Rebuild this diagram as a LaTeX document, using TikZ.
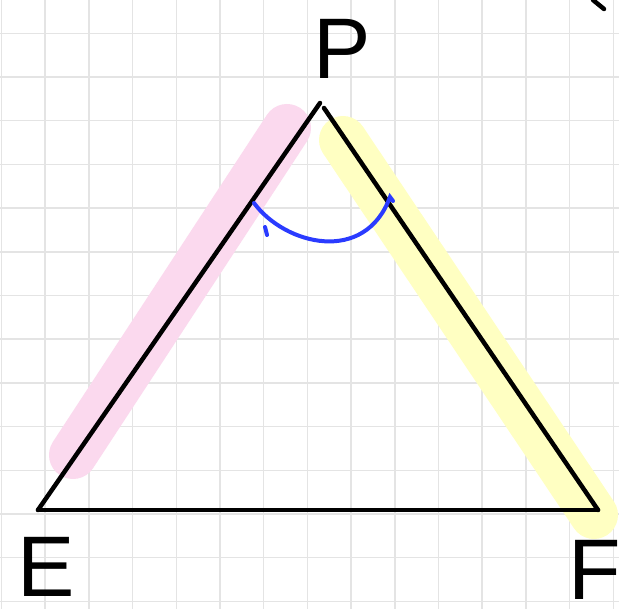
\documentclass[tikz,border=0pt]{standalone}
\usepackage{fontspec}
\setmainfont{Liberation Sans}
\usetikzlibrary{positioning}
\definecolor{gridcolor}{HTML}{E4E4E4}
\definecolor{pinkmark}{HTML}{FBD9EE}
\definecolor{yellowmark}{HTML}{FFFFC2}
\definecolor{anglecolor}{HTML}{2A3BFF}
\tikzset{
	gridline/.style={
		draw=gridcolor,
		line width=1.5pt
	},
	sideline/.style={
		draw=black,
		line width=4.5pt,
		line cap=round,
		line join=round
	},
	marker/.style={
		line width=48pt,
		line cap=round
	},
	anglemark/.style={
		draw=anglecolor,
		line width=4pt,
		line cap=round
	},
	vertexlabel/.style={
		inner sep=0pt,
		anchor=base,
		font=\fontsize{86}{86}\selectfont
	}
}

\begin{document}
\begin{tikzpicture}[x=1pt, y=-1pt]
		
		\useasboundingbox (0,0) rectangle (619,609);
		\fill[white] (0,0) rectangle (619,609);
		
		% Grid
		\foreach \gx in {0,...,14}
		\draw[gridline] (1.5+43.7*\gx,0) -- (1.5+43.7*\gx,609);
		\foreach \gy in {0,...,13}
		\draw[gridline] (0,33.3+43.7*\gy) -- (619,33.3+43.7*\gy);
		
		% Vertices
		\coordinate (E) at (38,510);
		\coordinate (F) at (598,510);
		\coordinate (Pl) at (320,103);
		\coordinate (Pr) at (324,108);
		
		% Highlights
		\coordinate (pinkA) at (73,455);
		\coordinate (pinkB) at (287,128);
		\coordinate (yelA) at (343,140);
		\coordinate (yelB) at (594,515);
		\draw[marker, pinkmark] (pinkA) -- (pinkB);
		\draw[marker, yellowmark] (yelA) -- (yelB);
		
		% Sides
		\draw[sideline] (E) -- (Pl);
		\draw[sideline] (Pr) -- (F);
		\draw[sideline] (E) -- (F);
		
		% Angle at P
		\coordinate (arcA) at (254,203);
		\coordinate (arcB) at (390,197);
		\draw[anglemark] (arcA) .. controls (285,245) and (365,265) .. (arcB) -- (393,201);
		\coordinate (tickA) at (265,227);
		\coordinate (tickB) at (267,235);
		\draw[anglemark] (tickA) -- (tickB);
		
		% Labels
		\node[vertexlabel] (labP) at (342,79) {P};
		\node[vertexlabel] (labE) at (46,597) {E};
		\node[vertexlabel, anchor=base west] (labF) at (568,599) {F};
		
		% Corner stroke
		\coordinate (cornA) at (593,0);
		\coordinate (cornB) at (604,9);
		\draw[sideline] (cornA) -- (cornB);
		
	\end{tikzpicture}
\end{document}
